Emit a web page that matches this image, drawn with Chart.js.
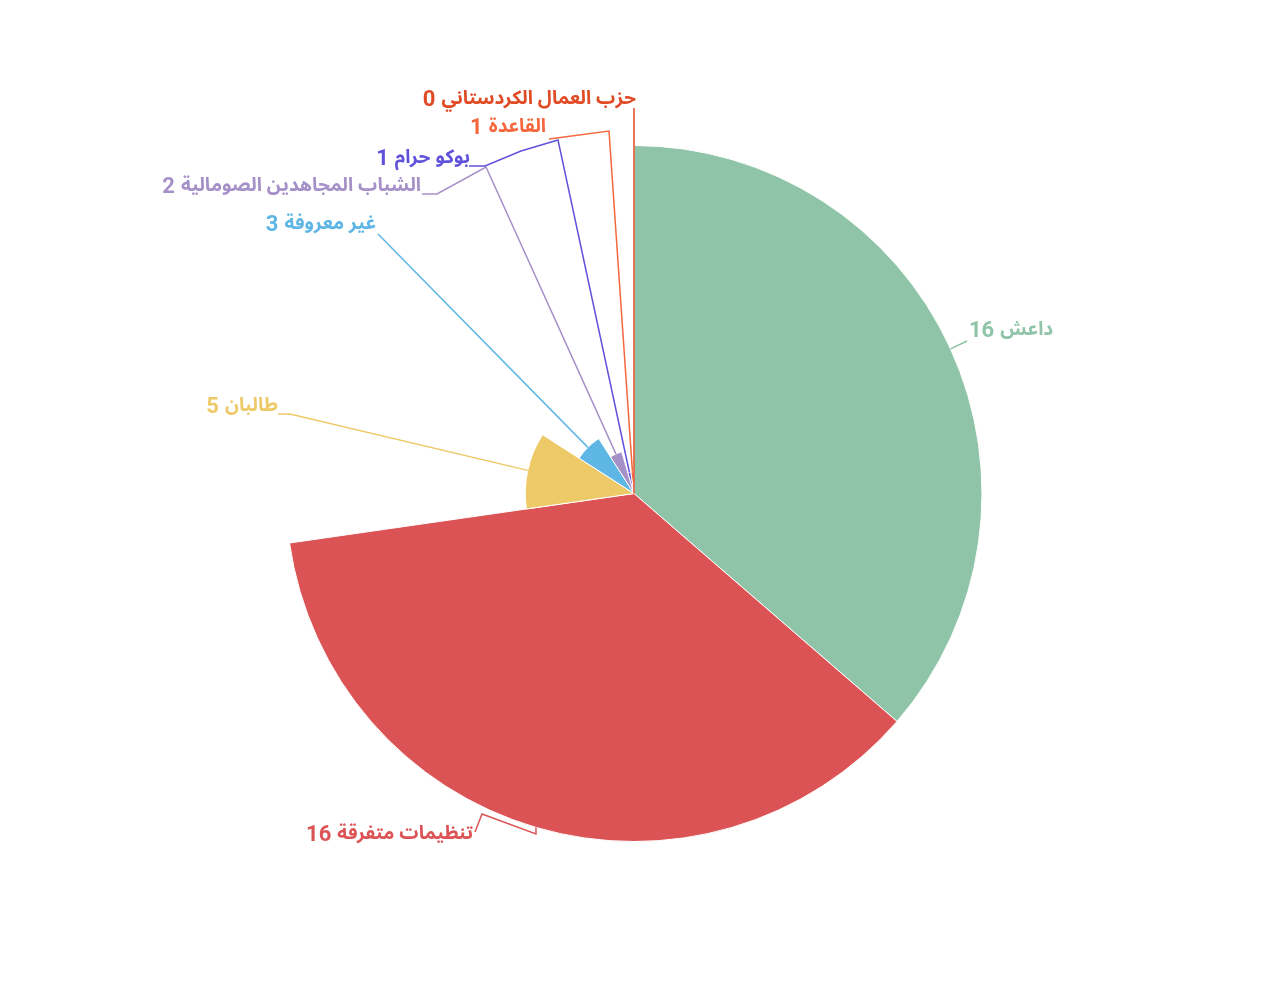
<!DOCTYPE html>
<html>
<head>
<meta charset="utf-8">
<script src="https://cdn.jsdelivr.net/npm/chart.js@4/dist/chart.umd.min.js"></script>
<style>
  html, body { margin: 0; padding: 0; background: #fff; }
  #wrap { width: 1270px; height: 987px; }
</style>
</head>
<body>
<div id="wrap"><canvas id="pie"></canvas></div>
<script>
// data
var names = ['داعش', 'تنظيمات متفرقة', 'طالبان', 'غير معروفة', 'الشباب المجاهدين الصومالية', 'بوكو حرام', 'القاعدة', 'حزب العمال الكردستاني'];
var values = [16, 16, 5, 3, 2, 1, 1, 0];
var colors = ['#8fc4a8', '#dc5355', '#edc967', '#5eb6e4', '#a690c8', '#6152dc', '#f5673d', '#e04b26'];

// where each label sits (leader line bends, then text anchor)
var labelLayout = [
    { path: [[967, 341]], x: 969, y: 331, align: 'left' },
    { path: [[536, 834], [482, 814], [475, 832]], x: 473, y: 835, align: 'right' },
    { path: [[290, 414], [278, 414]], x: 278, y: 407, align: 'right' },
    { path: [[378, 234]], x: 376, y: 225, align: 'right' },
    { path: [[486, 167], [437, 194], [422, 194]], x: 421, y: 187, align: 'right' },
    { path: [[558, 140], [521, 151], [485, 166], [469, 166]], x: 470, y: 159, align: 'right' },
    { path: [[609, 131], [549, 139]], x: 546, y: 128, align: 'right' },
    { path: [[634, 108]], x: 636, y: 100, align: 'right' }
];

var nameFont = 'bold 19px "Noto Sans Arabic", sans-serif';
var numFont = 'bold 22px Roboto, sans-serif';

// rose style: slice radius follows its value
var roseRadius = {
    id: 'roseRadius',
    afterDatasetUpdate: function(chart, args) {
        var meta = chart.getDatasetMeta(args.index);
        var ds = chart.data.datasets[args.index].data;
        var max = Math.max.apply(null, ds);
        meta.data.forEach(function(arc, i) {
            arc.outerRadius = arc.outerRadius * ds[i] / max;
        });
    }
};

var pieLabels = {
    id: 'pieLabels',
    afterDatasetsDraw: function(chart) {
        var ctx = chart.ctx;
        var meta = chart.getDatasetMeta(0);
        ctx.save();
        meta.data.forEach(function(arc, i) {
            var lay = labelLayout[i];
            var mid = (arc.startAngle + arc.endAngle) / 2;
            var sx = arc.x + Math.cos(mid) * arc.outerRadius;
            var sy = arc.y + Math.sin(mid) * arc.outerRadius;
            ctx.strokeStyle = colors[i];
            ctx.lineWidth = 1.5;
            ctx.beginPath();
            ctx.moveTo(sx, sy);
            lay.path.forEach(function(p) { ctx.lineTo(p[0], p[1]); });
            ctx.stroke();

            // name on the right, number on the left (rtl reading)
            ctx.fillStyle = colors[i];
            ctx.textBaseline = 'middle';
            ctx.direction = 'rtl';
            ctx.font = nameFont;
            var nameW = ctx.measureText(names[i]).width;
            ctx.font = numFont;
            var num = String(values[i]);
            var numW = ctx.measureText(num).width;
            var gap = 6;
            var right = lay.align === 'right' ? lay.x : lay.x + numW + gap + nameW;
            ctx.textAlign = 'right';
            ctx.font = nameFont;
            ctx.fillText(names[i], right, lay.y + 1);
            ctx.font = numFont;
            ctx.fillText(num, right - nameW - gap, lay.y);
        });
        ctx.restore();
    }
};

new Chart(document.getElementById('pie'), {
    type: 'pie',
    data: {
        labels: names,
        datasets: [{
            data: values,
            backgroundColor: colors,
            borderColor: '#ffffff',
            borderWidth: 1
        }]
    },
    options: {
        responsive: true,
        maintainAspectRatio: false,
        animation: false,
        radius: 348,
        layout: { padding: { left: 0, right: 2, top: 0, bottom: 0 } },
        plugins: {
            legend: { display: false },
            tooltip: { enabled: false }
        }
    },
    plugins: [roseRadius, pieLabels]
});
</script>
</body>
</html>
